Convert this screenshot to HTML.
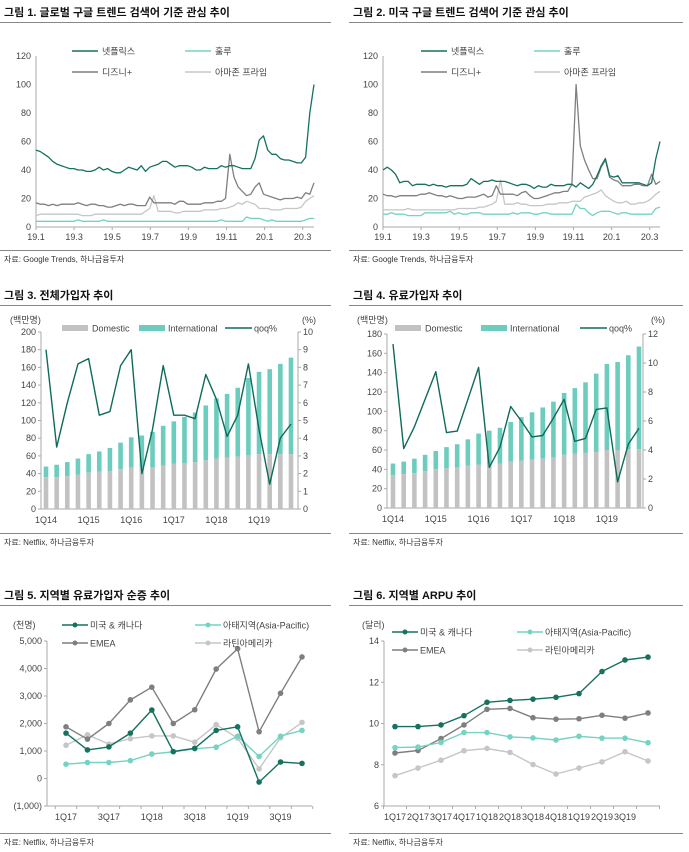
<!DOCTYPE html>
<html><head><meta charset="utf-8">
<style>
html,body{margin:0;padding:0;background:#fff;}
svg{display:block;font-family:"Liberation Sans","Noto Sans CJK KR",sans-serif;}
.t{font-size:11px;font-weight:bold;fill:#111;}
.s{font-size:8px;fill:#333;}
.tk{font-size:9px;fill:#444;}
.lg{font-size:9px;fill:#444;}
</style></head>
<body>
<svg id="root" width="689" height="852" viewBox="0 0 689 852" xmlns="http://www.w3.org/2000/svg">
<text class="t" x="4" y="16">그림 1. 글로벌 구글 트렌드 검색어 기준 관심 추이</text>
<text class="t" x="353" y="16">그림 2. 미국 구글 트렌드 검색어 기준 관심 추이</text>
<text class="t" x="4" y="299">그림 3. 전체가입자 추이</text>
<text class="t" x="353" y="299">그림 4. 유료가입자 추이</text>
<text class="t" x="4" y="599">그림 5. 지역별 유료가입자 순증 추이</text>
<text class="t" x="353" y="599">그림 6. 지역별 ARPU 추이</text>
<g stroke="#888" stroke-width="1">
<line x1="0" y1="22.5" x2="331" y2="22.5"/>
<line x1="349" y1="22.5" x2="683" y2="22.5"/>
<line x1="0" y1="305.5" x2="331" y2="305.5"/>
<line x1="349" y1="305.5" x2="683" y2="305.5"/>
<line x1="0" y1="605.5" x2="331" y2="605.5"/>
<line x1="349" y1="605.5" x2="683" y2="605.5"/>
<line x1="0" y1="250.5" x2="331" y2="250.5"/>
<line x1="349" y1="250.5" x2="683" y2="250.5"/>
<line x1="0" y1="533.5" x2="331" y2="533.5"/>
<line x1="349" y1="533.5" x2="683" y2="533.5"/>
<line x1="0" y1="833.5" x2="331" y2="833.5"/>
<line x1="349" y1="833.5" x2="683" y2="833.5"/>
</g>
<text class="s" x="4" y="262">자료: Google Trends, 하나금융투자</text>
<text class="s" x="353" y="262">자료: Google Trends, 하나금융투자</text>
<text class="s" x="4" y="545">자료: Netflix, 하나금융투자</text>
<text class="s" x="353" y="545">자료: Netflix, 하나금융투자</text>
<text class="s" x="4" y="845">자료: Netflix, 하나금융투자</text>
<text class="s" x="353" y="845">자료: Netflix, 하나금융투자</text>
<text class="tk" x="10" y="323">(백만명)</text>
<text class="tk" x="302" y="323">(%)</text>
<text class="tk" x="357" y="323">(백만명)</text>
<text class="tk" x="651" y="323">(%)</text>
<text class="tk" x="13" y="628">(천명)</text>
<text class="tk" x="362" y="628">(달러)</text>
</svg>
<script>
// ---- Chart 1 data (global Google Trends, weekly) ----
const c1Netflix=[54,53,51,49,46,44,43,42,41,41,40,40,39,39,40,42,40,41,39,38,38,40,42,41,40,43,39,42,43,44,46,46,44,42,43,43,43,42,40,40,42,41,41,41,43,42,43,43,42,41,41,41,48,61,64,54,51,51,48,47,47,46,45,45,49,80,100];
const c1Hulu=[4,4,4,4,4,4,4,4,4,4,5,4,4,4,4,4,5,4,4,4,4,4,4,4,4,4,4,4,4,4,4,4,4,4,4,4,4,4,4,4,4,4,4,4,5,4,4,4,4,4,7,6,6,6,5,4,5,4,4,4,4,4,4,4,5,6,6];
const c1Disney=[17,16,16,15,16,15,16,16,16,16,17,16,15,16,16,15,15,14,14,15,16,15,16,16,15,15,15,21,17,17,17,17,17,16,18,18,16,16,16,16,17,17,17,18,18,20,51,35,28,25,22,23,28,31,23,22,21,20,19,20,20,20,21,20,24,23,31];
const c1Amazon=[8,9,9,9,9,9,9,9,9,9,9,8,8,8,9,9,9,9,9,9,9,9,9,9,9,9,11,13,22,11,11,11,11,10,10,11,11,11,11,11,12,12,12,12,13,13,14,15,17,16,18,17,16,13,13,13,12,12,12,13,13,13,13,14,18,20,22];
// ---- Chart 2 data (US Google Trends, weekly) ----
const c2Netflix=[40,42,40,37,31,32,32,29,30,30,30,29,30,29,29,28,29,29,29,29,30,34,32,30,32,32,33,32,32,32,31,30,29,30,30,29,27,29,28,28,30,29,29,29,30,30,28,31,29,27,30,36,43,48,36,35,36,31,31,31,31,31,30,29,31,48,60];
const c2Hulu=[9,9,10,9,9,9,8,8,8,8,10,10,10,10,10,10,11,9,10,9,9,10,10,10,9,9,9,9,9,9,9,10,9,10,10,10,9,9,10,10,9,9,9,9,9,9,16,13,13,10,8,10,11,11,11,10,9,10,10,9,9,9,9,9,9,13,14];
const c2Disney=[23,22,22,21,22,22,22,22,22,23,23,24,23,22,22,21,22,21,20,20,21,21,21,22,23,21,22,29,23,23,23,23,22,24,25,22,20,20,21,22,23,24,24,25,25,30,100,57,47,40,34,34,42,47,35,33,32,29,29,29,30,30,29,29,37,30,32];
const c2Amazon=[12,12,12,12,12,12,13,12,12,12,12,12,12,12,12,12,12,12,13,13,13,13,13,14,14,15,16,18,33,16,16,16,17,16,16,15,15,15,15,16,16,16,17,17,17,18,18,18,21,22,23,24,26,22,20,18,17,17,18,16,16,17,17,18,20,23,25];
const trendTicks=[0,20,40,60,80,100,120];
const trendXLabels=['19.1','19.3','19.5','19.7','19.9','19.11','20.1','20.3'];
// ---- Chart 3 data (total subscribers) ----
const quarters=['1Q14','2Q14','3Q14','4Q14','1Q15','2Q15','3Q15','4Q15','1Q16','2Q16','3Q16','4Q16','1Q17','2Q17','3Q17','4Q17','1Q18','2Q18','3Q18','4Q18','1Q19','2Q19','3Q19','4Q19'];
const c3Domestic=[36,36,37,39,41,42,43,45,47,47,47,49,51,52,53,55,57,58,59,61,62,62,62,62];
const c3Total=[48,50,53,57,62,65,69,75,81,83,87,94,99,104,109,117,125,130,137,148,155,158,164,171];
const c3Qoq=[9.0,3.5,6.0,8.2,8.5,5.3,5.5,8.1,9.0,2.0,4.5,8.1,5.3,5.3,5.1,7.6,6.2,4.1,5.3,8.2,4.5,1.4,4.0,4.8];
const c3LeftTicks=[0,20,40,60,80,100,120,140,160,180,200];
const c3RightTicks=[0,1,2,3,4,5,6,7,8,9,10];
// ---- Chart 4 data (paid subscribers) ----
const c4Domestic=[34,35,36,38,40,41,42,44,45,45,46,48,49,50,51,52,55,56,57,58,60,60,61,61];
const c4Total=[46,48,51,55,59,63,66,71,77,80,83,89,94,99,104,110,119,124,130,139,149,151,158,167];
const c4Qoq=[11.3,4.1,5.6,7.5,9.4,5.2,5.3,7.5,9.7,2.8,4.2,7.0,6.0,4.9,5.0,6.2,7.5,4.6,4.8,6.8,6.9,1.8,4.4,5.5];
const c4LeftTicks=[0,20,40,60,80,100,120,140,160,180];
const c4RightTicks=[0,2,4,6,8,10,12];
const yearLabels=['1Q14','1Q15','1Q16','1Q17','1Q18','1Q19'];
// ---- Chart 5 data (net adds by region, thousands) ----
const regQuarters=['1Q17','2Q17','3Q17','4Q17','1Q18','2Q18','3Q18','4Q18','1Q19','2Q19','3Q19','4Q19'];
const c5US=[1650,1040,1150,1650,2490,980,1100,1750,1880,-130,600,550];
const c5APAC=[520,580,580,650,890,970,1080,1140,1540,800,1540,1750];
const c5EMEA=[1880,1430,2000,2860,3320,2000,2500,3980,4720,1700,3100,4420];
const c5LatAm=[1210,1590,1250,1450,1550,1550,1320,1960,1470,350,1480,2040];
const c5Ticks=[-1000,0,1000,2000,3000,4000,5000];
const c5TickLabels=['(1,000)','0','1,000','2,000','3,000','4,000','5,000'];
const c5XLabels=['1Q17','3Q17','1Q18','3Q18','1Q19','3Q19'];
// ---- Chart 6 data (ARPU by region, USD) ----
const c6US=[9.85,9.85,9.93,10.38,11.03,11.12,11.18,11.27,11.45,12.52,13.08,13.22];
const c6APAC=[8.83,8.86,9.08,9.56,9.56,9.35,9.30,9.20,9.38,9.29,9.29,9.07];
const c6EMEA=[8.57,8.69,9.27,9.93,10.69,10.73,10.28,10.21,10.23,10.40,10.26,10.51];
const c6LatAm=[7.47,7.84,8.22,8.68,8.79,8.60,8.01,7.55,7.84,8.14,8.63,8.18];
const c6Ticks=[6,8,10,12,14];
const c6XLabels=['1Q17','2Q17','3Q17','4Q17','1Q18','2Q18','3Q18','4Q18','1Q19','2Q19','3Q19'];

const NS='http://www.w3.org/2000/svg';
const root=document.getElementById('root');
function mk(tag,attrs,name,parent){
  const e=document.createElementNS(NS,tag);
  for(const k in attrs) e.setAttribute(k,attrs[k]);
  
  
  (parent||root).appendChild(e);
  return e;
}
function txt(x,y,s,cls,anchor,name,parent){
  const t=mk('text',{x:x,y:y,class:cls,'text-anchor':anchor||'start'},name,parent);
  t.textContent=s; return t;
}
function lin(d0,d1,r0,r1){return v=>r0+(v-d0)/(d1-d0)*(r1-r0);}
function poly(pts,color,w,name,parent){
  return mk('polyline',{points:pts.map(p=>p[0].toFixed(1)+','+p[1].toFixed(1)).join(' '),fill:'none',stroke:color,'stroke-width':w,'stroke-linejoin':'round'},name,parent);
}
const TEAL='#17715f', MINT='#74d3c3', GRAY='#7f7f7f', LGRAY='#c6c6c6';

// ---- Trend charts ----
function trendChart(p,left,right,top,bottom,series){
  const g=mk('g',{},p+'-plot');
  const y=lin(0,120,bottom,top);
  mk('line',{x1:left,y1:top,x2:left,y2:bottom,stroke:'#aaa'},p+'-y-axis',g);
  mk('line',{x1:left,y1:bottom,x2:right,y2:bottom,stroke:'#aaa'},p+'-x-axis',g);
  trendTicks.forEach(v=>{txt(left-5,y(v)+3,String(v),'tk','end',p+'-y-tick-label',g);});
  trendXLabels.forEach((l,i)=>{
    const x=left+i*38.1;
    mk('line',{x1:x,y1:bottom,x2:x,y2:bottom+3,stroke:'#aaa'},p+'-x-tick',g);
    txt(x,bottom+13,l,'tk','middle',p+'-x-tick-label',g);
  });
  series.forEach(s=>{
    const n=s.d.length;
    const x=lin(0,n-1,left,right);
    poly(s.d.map((v,i)=>[x(i),y(v)]),s.c,1.3,p+'-'+s.n+'-line',g);
  });
  const lx=left+(p==='chart1'?36:38), ly=top-5;
  const leg=[['넷플릭스',TEAL,0,0],['훌루',MINT,113,0],['디즈니+',GRAY,0,21],['아마존 프라임',LGRAY,113,21]];
  leg.forEach(L=>{
    mk('line',{x1:lx+L[2],y1:ly+L[3],x2:lx+L[2]+26,y2:ly+L[3],stroke:L[1],'stroke-width':1.5},p+'-legend-line',g);
    txt(lx+L[2]+30,ly+L[3]+3.5,L[0],'lg','start',p+'-legend-label',g);
  });
}
trendChart('chart1',36,314,56,227,[{d:c1Amazon,c:LGRAY,n:'amazon'},{d:c1Hulu,c:MINT,n:'hulu'},{d:c1Disney,c:GRAY,n:'disney'},{d:c1Netflix,c:TEAL,n:'netflix'}]);
trendChart('chart2',383,660,56,227,[{d:c2Amazon,c:LGRAY,n:'amazon'},{d:c2Hulu,c:MINT,n:'hulu'},{d:c2Disney,c:GRAY,n:'disney'},{d:c2Netflix,c:TEAL,n:'netflix'}]);

// ---- Subscriber bar charts ----
function subChart(p,left,right,top,bottom,lmax,rmax,lt,rt,dom,tot,qoq,x0,x1,leg){
  const g=mk('g',{},p+'-plot');
  const yl=lin(0,lmax,bottom,top), yr=lin(0,rmax,bottom,top);
  const x=lin(0,quarters.length-1,x0,x1);
  mk('line',{x1:left,y1:top,x2:left,y2:bottom,stroke:'#aaa'},p+'-left-axis',g);
  mk('line',{x1:right,y1:top,x2:right,y2:bottom,stroke:'#aaa'},p+'-right-axis',g);
  mk('line',{x1:left,y1:bottom,x2:right,y2:bottom,stroke:'#aaa'},p+'-x-axis',g);
  lt.forEach(v=>{
    mk('line',{x1:left-3,y1:yl(v),x2:left,y2:yl(v),stroke:'#aaa'},p+'-left-tick',g);
    txt(left-5,yl(v)+3,String(v),'tk','end',p+'-left-tick-label',g);});
  rt.forEach(v=>{
    mk('line',{x1:right,y1:yr(v),x2:right+3,y2:yr(v),stroke:'#aaa'},p+'-right-tick',g);
    txt(right+5,yr(v)+3,String(v),'tk','start',p+'-right-tick-label',g);});
  quarters.forEach((q,i)=>{
    const cx=x(i), bw=4.6;
    mk('rect',{x:cx-bw/2,y:yl(tot[i]),width:bw,height:yl(dom[i])-yl(tot[i]),fill:'#6cccbd'},p+'-bar-international-'+q,g);
    mk('rect',{x:cx-bw/2,y:yl(dom[i]),width:bw,height:bottom-yl(dom[i]),fill:'#c2c2c2'},p+'-bar-domestic-'+q,g);
  });
  yearLabels.forEach((l,i)=>{txt(x(i*4),bottom+14,l,'tk','middle',p+'-x-tick-label',g);});
  poly(qoq.map((v,i)=>[x(i),yr(v)]),'#0e6b5a',1.4,p+'-qoq-line',g);
  const ly=leg[0];
  mk('rect',{x:leg[1],y:ly-3,width:26,height:6,fill:'#c2c2c2'},p+'-legend-domestic-swatch',g);
  txt(leg[1]+30,ly+3.5,'Domestic','lg','start',p+'-legend-domestic',g);
  mk('rect',{x:leg[2],y:ly-3,width:26,height:6,fill:'#6cccbd'},p+'-legend-international-swatch',g);
  txt(leg[2]+29,ly+3.5,'International','lg','start',p+'-legend-international',g);
  mk('line',{x1:leg[3],y1:ly,x2:leg[3]+27,y2:ly,stroke:'#0e6b5a','stroke-width':1.5},p+'-legend-qoq-line',g);
  txt(leg[3]+29,ly+3.5,'qoq%','lg','start',p+'-legend-qoq',g);
}
subChart('chart3',41,298,332,509,200,10,c3LeftTicks,c3RightTicks,c3Domestic,c3Total,c3Qoq,46,291,[328,62,139,225]);
subChart('chart4',387,643,334,508,180,12,c4LeftTicks,c4RightTicks,c4Domestic,c4Total,c4Qoq,393,639,[328,395,481,580]);

// ---- Regional line charts ----
function regChart(p,left,right,top,bottom,ymin,ymax,ticks,tickLabels,xl,xStep,series,x0,x1,legX,legY){
  const g=mk('g',{},p+'-plot');
  const y=lin(ymin,ymax,bottom,top);
  const x=lin(0,regQuarters.length-1,x0,x1);
  mk('line',{x1:left,y1:top,x2:left,y2:bottom,stroke:'#aaa'},p+'-y-axis',g);
  mk('line',{x1:left,y1:bottom,x2:right,y2:bottom,stroke:'#aaa'},p+'-x-axis',g);
  ticks.forEach((v,i)=>{
    mk('line',{x1:left-3,y1:y(v),x2:left,y2:y(v),stroke:'#aaa'},p+'-y-tick',g);
    txt(left-5,y(v)+3,tickLabels[i],'tk','end',p+'-y-tick-label',g);});
  const sp=(x1-x0)/(regQuarters.length-1);
  for(let i=0;i<=regQuarters.length;i++){
    const tx=x0-sp/2+i*sp;
    mk('line',{x1:tx,y1:bottom,x2:tx,y2:bottom+3,stroke:'#aaa'},p+'-x-tick',g);
  }
  xl.forEach((l,i)=>{txt(x(i*xStep),bottom+14,l,'tk','middle',p+'-x-tick-label',g);});
  series.forEach(s=>{
    poly(s.d.map((v,i)=>[x(i),y(v)]),s.c,1.4,p+'-'+s.n+'-line',g);
    s.d.forEach((v,i)=>{mk('circle',{cx:x(i),cy:y(v),r:2.8,fill:s.c},p+'-'+s.n+'-point',g);});
  });
  const leg=[['미국 & 캐나다',TEAL,0,0],['아태지역(Asia-Pacific)',MINT,legX[1],0],['EMEA',GRAY,0,18],['라틴아메리카',LGRAY,legX[1],18]];
  leg.forEach(L=>{
    const lx=legX[0]+L[2], ly=legY+L[3];
    mk('line',{x1:lx,y1:ly,x2:lx+26,y2:ly,stroke:L[1],'stroke-width':1.5},p+'-legend-line',g);
    mk('circle',{cx:lx+13,cy:ly,r:2.5,fill:L[1]},p+'-legend-marker',g);
    txt(lx+28,ly+3.5,L[0],'lg','start',p+'-legend-label',g);
  });
}
regChart('chart5',47,312,641,806,-1000,5000,c5Ticks,c5TickLabels,c5XLabels,2,
  [{d:c5LatAm,c:LGRAY,n:'latam'},{d:c5EMEA,c:GRAY,n:'emea'},{d:c5APAC,c:MINT,n:'apac'},{d:c5US,c:TEAL,n:'us-canada'}],66,302,[62,133],625);
regChart('chart6',384,660,641,806,6,14,c6Ticks,c6Ticks.map(String),c6XLabels,1,
  [{d:c6LatAm,c:LGRAY,n:'latam'},{d:c6EMEA,c:GRAY,n:'emea'},{d:c6APAC,c:MINT,n:'apac'},{d:c6US,c:TEAL,n:'us-canada'}],395,648,[392,125],632);
</script>
</body></html>
